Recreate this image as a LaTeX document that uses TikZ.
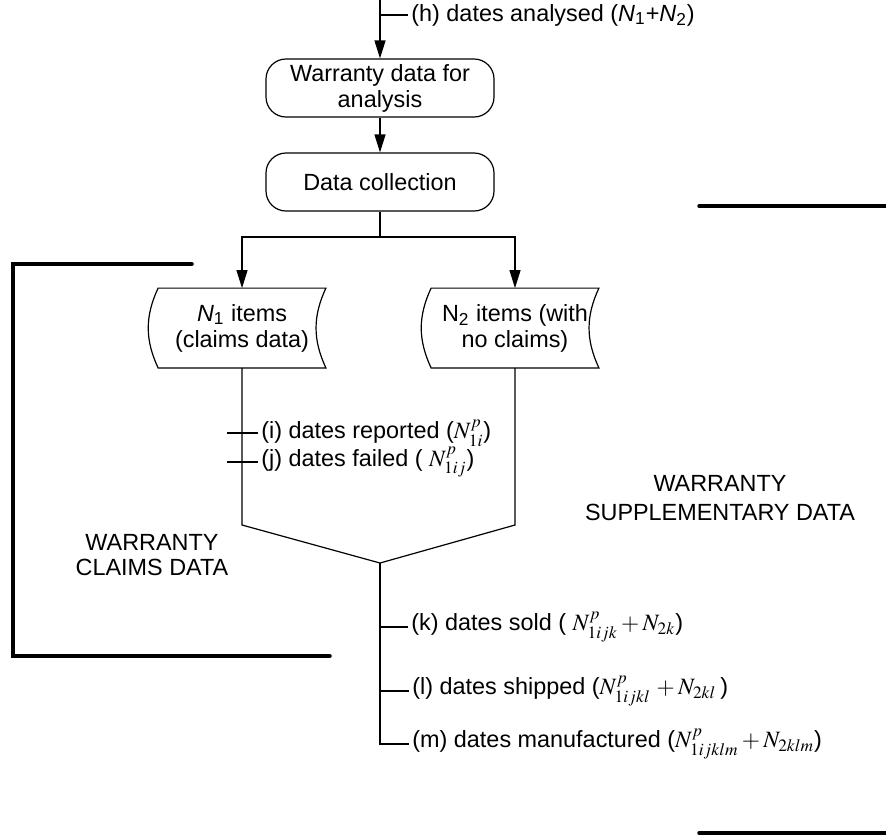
\documentclass[tikz,border=0pt]{standalone}
\usepackage{mathptmx}
\usepackage[no-math]{fontspec}
\setmainfont{Liberation Sans}
\usetikzlibrary{arrows.meta}
\tikzset{
  flow/.style={line width=0.6pt},
  arr/.style={flow,-{Triangle[length=9pt,width=5.5pt]}},
  rbox/.style={draw,flow,rounded corners=10pt,minimum width=114pt,minimum height=29pt,
    inner sep=0pt,align=center,font=\fontsize{11.7}{13}\selectfont},
  store/.style={minimum width=83.5pt,minimum height=39.5pt,inner sep=0pt,
    align=center,font=\fontsize{11.7}{13}\selectfont},
  lab/.style={anchor=west,inner sep=1.5pt,font=\fontsize{11.7}{13}\selectfont},
  note/.style={align=center,inner sep=0pt,font=\fontsize{11.7}{12.5}\selectfont},
  bracket/.style={line width=1.75pt,line cap=round}
}
\begin{document}
\begin{tikzpicture}[x=0.5pt,y=-0.5pt]
\useasboundingbox (0,0) rectangle (886,836);
% main flow
\coordinate (in) at (380,0);
\node[rbox] (wd) at (380,88) {Warranty data for\\analysis};
\node[rbox] (dc) at (380,182) {Data collection};
\draw[arr] (in) -- (wd);
\draw[arr] (wd) -- (dc);
%
\coordinate (h0) at (380,15);
\node[lab] (hl) at (408,15) {(h) dates analysed (\textit{N}\textsubscript{1}+\textit{N}\textsubscript{2})};
\draw[flow] (h0) -- (hl.west);
%
\node[store] (n1) at (242,328) {\textit{N}\textsubscript{1} items\\(claims data)};
\node[store] (n2) at (515,328) {N\textsubscript{2} items (with\\no claims)};
\draw[flow] (n1.north west) to[bend right=25] (n1.south west) -- (n1.south east)
  to[bend left=25] (n1.north east) -- cycle;
\draw[flow] (n2.north west) to[bend right=25] (n2.south west) -- (n2.south east)
  to[bend left=25] (n2.north east) -- cycle;
%
\coordinate (sp) at (380,237);
\draw[flow] (dc) -- (sp);
\draw[arr] (sp) -| (n1);
\draw[arr] (sp) -| (n2);
% merge
\coordinate (jl) at (242,525);
\coordinate (jr) at (515,525);
\coordinate (mg) at (380,563);
\coordinate (mm) at (380,744);
\draw[flow] (n1) -- (jl) -- (mg) -- (jr) -- (n2);
%
\coordinate (i0) at (227,433);
\node[lab] (il) at (258,433) {(i) dates reported ($N^{p}_{1i}$)};
\draw[flow] (i0) -- (il.west);
\coordinate (j0) at (227,462);
\node[lab] (jla) at (258,462) {(j) dates failed ( $N^{p}_{1ij}$)};
\draw[flow] (j0) -- (jla.west);
%
\coordinate (k0) at (380,627);
\node[lab] (kl) at (408,627) {(k) dates sold ( $N^{p}_{1ijk}+N_{2k}$)};
\draw[flow] (k0) -- (kl.west);
\coordinate (l0) at (380,691);
\node[lab] (ll) at (409,691) {(l) dates shipped ($N^{p}_{1ijkl}\,+N_{2kl}$\,)};
\draw[flow] (l0) -- (ll.west);
\node[lab] (ml) at (409,744) {(m) dates manufactured ($N^{p}_{1ijklm}+N_{2klm}$)};
\draw[flow] (mg) -- (mm) -- (ml.west);
% data groups
\draw[bracket] (192,264) -- (13,264) -- (13,656) -- (330,656);
\draw[bracket] (699,206) -- (886,206);
\draw[bracket] (699,833) -- (886,833);
\node[note] (wcd) at (152,555) {WARRANTY\\CLAIMS DATA};
\node[note,font=\fontsize{11.7}{14.5}\selectfont] (wsd) at (720,498) {WARRANTY\\SUPPLEMENTARY DATA};
\end{tikzpicture}
\end{document}
